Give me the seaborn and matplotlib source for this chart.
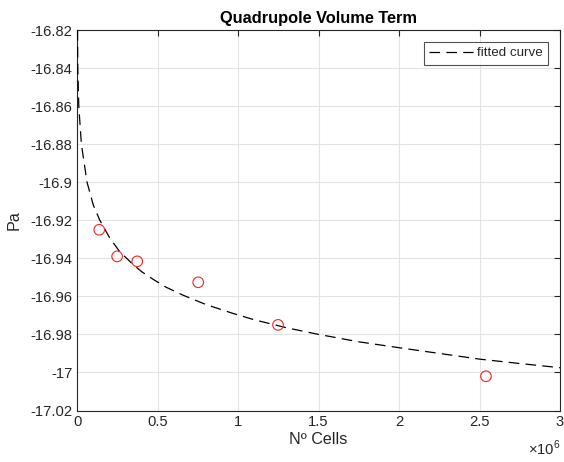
import matplotlib
matplotlib.use("Agg")
import matplotlib.pyplot as plt
import seaborn as sns
import pandas as pd

# Measured data (cells, Pa)
cells = [137000, 248000, 373000, 752000, 1248000, 2540000]
pa = [-16.925, -16.939, -16.9416, -16.9526, -16.975, -17.002]

# Fitted curve samples
curve_x = [2000, 3600, 9800, 26000, 61000, 100000, 140000, 200000, 264000, 350000,
           400000, 471000, 550000, 658000, 800000, 969000, 1100000, 1300000, 1500000,
           1750000, 2000000, 2250000, 2500000, 2750000, 3000000]
curve_y = [-16.82, -16.84, -16.86, -16.88, -16.90, -16.912, -16.9199, -16.929, -16.9365,
           -16.9435, -16.947, -16.951, -16.9551, -16.9594, -16.9643, -16.969, -16.9723,
           -16.9765, -16.980, -16.9839, -16.987, -16.990, -16.993, -16.9953, -16.9975]

xticks = [0, 0.5e6, 1e6, 1.5e6, 2e6, 2.5e6, 3e6]
xtick_labels = ["0", "0.5", "1", "1.5", "2", "2.5", "3"]
yticks = [-17.02, -17.0, -16.98, -16.96, -16.94, -16.92, -16.9, -16.88, -16.86, -16.84, -16.82]
ytick_labels = ["-17.02", "-17", "-16.98", "-16.96", "-16.94", "-16.92", "-16.9", "-16.88",
                "-16.86", "-16.84", "-16.82"]

sns.set_theme(style="white")
plt.rcParams['font.family'] = ['Liberation Sans', 'DejaVu Sans']
plt.rcParams['mathtext.fontset'] = 'custom'
plt.rcParams['mathtext.rm'] = 'Liberation Sans'

W, H = 564, 462
fig = plt.figure(figsize=(W / 100, H / 100), dpi=100)
ax = fig.add_axes([77.2 / W, (H - 410.5) / H, (560 - 77.2) / W, (410.5 - 30) / H])

df_curve = pd.DataFrame({"x": curve_x, "y": curve_y})
df_pts = pd.DataFrame({"x": cells, "y": pa})

sns.lineplot(data=df_curve, x="x", y="y", ax=ax, color="black", linewidth=0.9,
             label="fitted curve", sort=False, zorder=3)
ax.lines[0].set_dashes([8.5, 5.0])
sns.scatterplot(data=df_pts, x="x", y="y", ax=ax, marker="o", facecolor="none",
                edgecolor="#ff2020", s=58, linewidth=0.8, zorder=4)

ax.set_xlim(0, 3e6)
ax.set_ylim(-17.02, -16.82)
ax.set_xticks(xticks)
ax.set_xticklabels(xtick_labels)
ax.set_yticks(yticks)
ax.set_yticklabels(ytick_labels)

ax.grid(True, color="#e3e3e3", linewidth=0.8)
ax.set_axisbelow(True)
for s in ax.spines.values():
    s.set_color("#262626")
    s.set_linewidth(0.8)
ax.tick_params(direction="in", length=4, width=0.8, colors="#262626", labelsize=10.6,
               top=True, right=True, labelcolor="#262626", pad=3.5)

ax.set_xlabel("Nº Cells", fontsize=11.6, color="#262626", labelpad=2)
ax.set_ylabel("Pa", fontsize=11.6, color="#262626", labelpad=6)
ax.set_title("Quadrupole Volume Term", fontsize=11.8, fontweight="bold", color="black", pad=5)

fig.text(560 / W, (H - 455) / H, r"$\times10^{6}$", ha="right", va="baseline",
         fontsize=10.6, color="#262626")

leg = ax.legend(loc="upper right", fontsize=9.6, frameon=True, fancybox=False,
                handlelength=3.3, borderpad=0.4, handletextpad=0.3, borderaxespad=0.88)
leg.get_frame().set_edgecolor("#262626")
leg.get_frame().set_linewidth(0.8)

fig.savefig("out.png", dpi=100)
